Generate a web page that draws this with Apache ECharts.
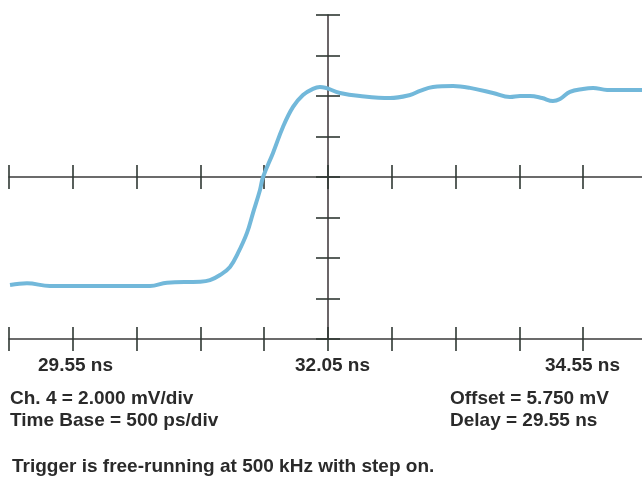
<!DOCTYPE html>
<html>
<head>
<meta charset="utf-8">
<script src="https://cdn.jsdelivr.net/npm/echarts@6/dist/echarts.min.js"></script>
<style>
  html, body { margin: 0; padding: 0; background: #ffffff; overflow: hidden; width: 642px; height: 477px; }
  /* the screen's last division runs just past the right edge of the page */
  #chart { width: 647px; height: 477px; }
</style>
</head>
<body>
<div id="chart"></div>
<script>
// Sampled step response: time in ns, channel voltage in mV
const timeNs = [
  29.558, 29.691, 29.871, 30.263, 30.655, 30.788, 31.047, 31.125, 31.204,
  31.282, 31.345, 31.415, 31.462, 31.517, 31.541, 31.619, 31.697, 31.776,
  31.854, 31.932, 31.987, 32.144, 32.301, 32.536, 32.693, 32.771, 32.873,
  33.030, 33.163, 33.343, 33.476, 33.555, 33.633, 33.727, 33.813, 33.868,
  33.946, 34.048, 34.127, 34.237, 34.393, 34.511
];
const voltageMv = [
  0.42, 0.50, 0.37, 0.37, 0.37, 0.53, 0.58, 0.66, 0.91,
  1.31, 2.00, 2.99, 3.97, 5.11, 5.75, 6.94, 8.22, 9.21,
  9.80, 10.10, 10.19, 9.90, 9.75, 9.65, 9.80, 10.00, 10.19,
  10.24, 10.15, 9.90, 9.70, 9.75, 9.75, 9.65, 9.50, 9.60,
  9.95, 10.10, 10.15, 10.05, 10.05, 10.05
];

// Time-axis annotations
const timeLabels = ['29.55 ns', '32.05 ns', '34.55 ns'];

// Instrument settings printed under the screen
const settingsLeft = ['Ch. 4 = 2.000 mV/div', 'Time Base = 500 ps/div'];
const settingsRight = ['Offset = 5.750 mV', 'Delay = 29.55 ns'];
const triggerNote = 'Trigger is free-running at 500 kHz with step on.';

// Screen scaling
const delayNs = 29.55;
const nsPerDiv = 0.5;
const mvPerDiv = 2;
const offsetMv = 5.75;
const divX = 10;
const divY = 8;
const centerNs = delayNs + nsPerDiv * divX / 2;

// Plot relative to screen centre so the graticule axes cross at zero
const traceData = timeNs.map((t, i) => [t - centerNs, voltageMv[i] - offsetMv]);

const ink = '#2f3833';
const tickStyle = { color: ink, width: 1.6 };
const lineStyle = { color: '#3b3b3b', width: 1.5 };

function timeAxis(onZero, inside, showLine) {
  return {
    type: 'value',
    position: 'bottom',
    min: -nsPerDiv * divX / 2,
    max: nsPerDiv * divX / 2,
    interval: nsPerDiv,
    axisLine: { show: showLine, onZero: onZero, lineStyle: lineStyle },
    axisTick: { show: true, inside: inside, length: 12, lineStyle: tickStyle },
    axisLabel: { show: false },
    splitLine: { show: false }
  };
}

function voltAxis(inside, showLine) {
  return {
    type: 'value',
    position: 'left',
    min: -mvPerDiv * divY / 2,
    max: mvPerDiv * divY / 2,
    interval: mvPerDiv,
    axisLine: { show: showLine, onZero: true, lineStyle: { color: '#3a3236', width: 1.5 } },
    axisTick: { show: true, inside: inside, length: 12, lineStyle: tickStyle },
    axisLabel: { show: false },
    splitLine: { show: false }
  };
}

const textFont = {
  fontFamily: '"Liberation Sans", Arial, sans-serif',
  fontSize: 19,
  fontWeight: 'bold',
  fill: '#2a2a2a'
};

function label(text, x, y) {
  return {
    type: 'text',
    left: x,
    top: y,
    style: Object.assign({ text: text }, textFont)
  };
}

const chart = echarts.init(document.getElementById('chart'), null, { renderer: 'canvas' });

chart.setOption({
  animation: false,
  backgroundColor: '#ffffff',
  grid: { left: 9, right: 0, top: 15, bottom: 138, containLabel: false },
  xAxis: [
    timeAxis(true, false, true),
    timeAxis(true, true, false),
    timeAxis(false, false, true),
    timeAxis(false, true, false)
  ],
  yAxis: [
    voltAxis(false, true),
    voltAxis(true, false)
  ],
  series: [{
    type: 'line',
    xAxisIndex: 0,
    yAxisIndex: 0,
    data: traceData,
    smooth: 0.4,
    showSymbol: false,
    clip: false,
    lineStyle: { color: '#72b8da', width: 4 },
    z: 5
  }],
  graphic: [
    label(timeLabels[0], 38, 356),
    label(timeLabels[1], 295, 356),
    label(timeLabels[2], 545, 356),
    label(settingsLeft[0], 10, 389),
    label(settingsLeft[1], 10, 411),
    label(settingsRight[0], 450, 389),
    label(settingsRight[1], 450, 411),
    label(triggerNote, 12, 457)
  ]
});
</script>
</body>
</html>
